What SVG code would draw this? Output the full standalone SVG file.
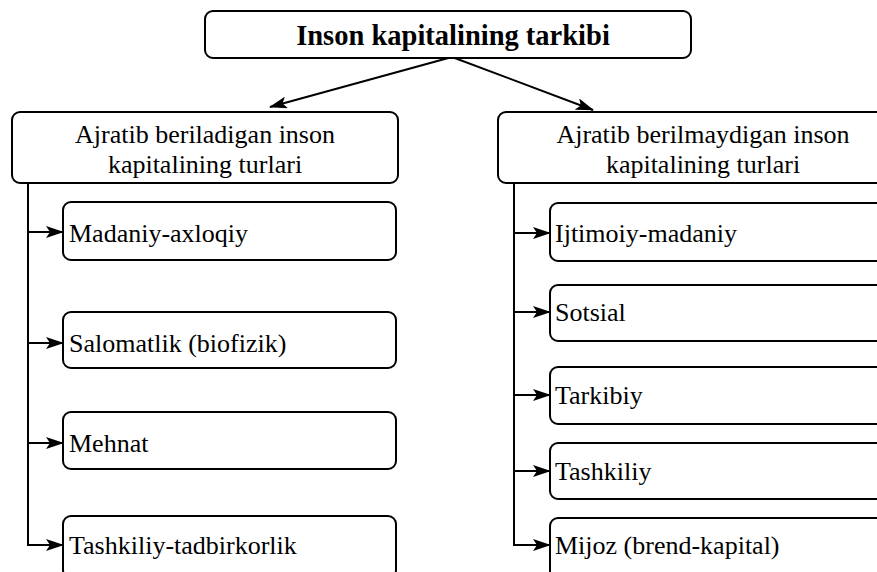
<svg xmlns="http://www.w3.org/2000/svg" width="877" height="572" viewBox="0 0 877 572">
<style>
.box{fill:#fff;stroke:#000;stroke-width:2}
.t{font-size:26px;fill:#000}
.c{text-anchor:middle}
.b{font-weight:bold;font-size:28.5px}
.ln{stroke:#000;stroke-width:2;fill:none}
</style>
<defs>
<marker id="ah" viewBox="0 0 18 12" refX="17" refY="6" markerWidth="18" markerHeight="12" markerUnits="userSpaceOnUse" orient="auto">
<path d="M0,0 L18,6 L0,12 L4,6 Z" fill="#000"/>
</marker>
</defs>
<rect width="877" height="572" fill="#fff"/>
<g id="connectors">
<line class="ln" x1="452" y1="57" x2="270" y2="107" marker-end="url(#ah)"/>
<line class="ln" x1="452" y1="57" x2="593" y2="110" marker-end="url(#ah)"/>
<polyline class="ln" points="28,183 28,545"/>
<line class="ln" x1="28" y1="232" x2="63" y2="232" marker-end="url(#ah)"/>
<line class="ln" x1="28" y1="343" x2="63" y2="343" marker-end="url(#ah)"/>
<line class="ln" x1="28" y1="443" x2="63" y2="443" marker-end="url(#ah)"/>
<line class="ln" x1="27" y1="545" x2="63" y2="545" marker-end="url(#ah)"/>
<polyline class="ln" points="514,183 514,545"/>
<line class="ln" x1="514" y1="233" x2="550" y2="233" marker-end="url(#ah)"/>
<line class="ln" x1="514" y1="312" x2="550" y2="312" marker-end="url(#ah)"/>
<line class="ln" x1="514" y1="395" x2="550" y2="395" marker-end="url(#ah)"/>
<line class="ln" x1="514" y1="471" x2="550" y2="471" marker-end="url(#ah)"/>
<line class="ln" x1="513" y1="545" x2="550" y2="545" marker-end="url(#ah)"/>
</g>
<g font-family="Liberation Serif, Times New Roman, DejaVu Serif, serif">
<g id="root">
<rect class="box" x="205" y="11" width="486" height="47" rx="8"/>
<text class="t c b" x="453" y="45">Inson kapitalining tarkibi</text>
</g>
<g id="left-head">
<rect class="box" x="12" y="112" width="386" height="71" rx="8"/>
<text class="t c" x="205" y="143">Ajratib beriladigan inson</text>
<text class="t c" x="205" y="173">kapitalining turlari</text>
</g>
<g id="right-head">
<rect class="box" x="498" y="112" width="410" height="71" rx="8"/>
<text class="t c" x="703" y="143">Ajratib berilmaydigan inson</text>
<text class="t c" x="703" y="173">kapitalining turlari</text>
</g>
<g id="l1"><rect class="box" x="63" y="202" width="333" height="58" rx="8"/><text class="t" x="69" y="242">Madaniy-axloqiy</text></g>
<g id="l2"><rect class="box" x="63" y="312" width="333" height="56" rx="8"/><text class="t" x="69" y="352">Salomatlik (biofizik)</text></g>
<g id="l3"><rect class="box" x="63" y="412" width="333" height="57" rx="8"/><text class="t" x="69" y="452">Mehnat</text></g>
<g id="l4"><rect class="box" x="63" y="516" width="333" height="62" rx="8"/><text class="t" x="69" y="554">Tashkiliy-tadbirkorlik</text></g>
<g id="r1"><rect class="box" x="550" y="203" width="360" height="58" rx="8"/><text class="t" x="555" y="242">Ijtimoiy-madaniy</text></g>
<g id="r2"><rect class="box" x="550" y="285" width="360" height="56" rx="8"/><text class="t" x="555" y="321">Sotsial</text></g>
<g id="r3"><rect class="box" x="550" y="367" width="360" height="57" rx="8"/><text class="t" x="555" y="404">Tarkibiy</text></g>
<g id="r4"><rect class="box" x="550" y="443" width="360" height="56" rx="8"/><text class="t" x="555" y="480">Tashkiliy</text></g>
<g id="r5"><rect class="box" x="550" y="518" width="360" height="62" rx="8"/><text class="t" x="555" y="554">Mijoz (brend-kapital)</text></g>
</g>
</svg>
